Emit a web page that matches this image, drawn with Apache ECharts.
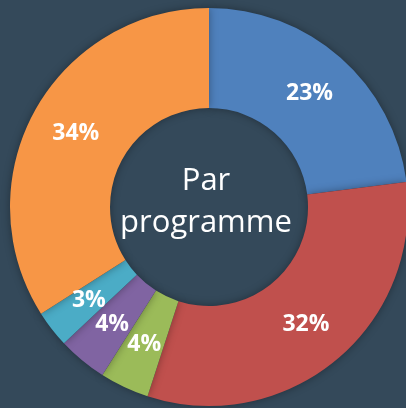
<!DOCTYPE html>
<html lang="fr">
<head>
    <meta http-equiv="Content-Type" content="text/html; charset=utf-8">
    <script type="text/javascript" src="https://cdn.jsdelivr.net/npm/echarts@6/dist/echarts.min.js"></script>
    <title>Par programme</title>
    <style>
        html, body { margin: 0; padding: 0; background: #34495a; }
        #chart { width: 406px; height: 408px; }
    </style>
</head>
<body>
<div id="chart"></div>
<script>
// parts par programme, sens horaire depuis midi
const programmes = ['A', 'B', 'C', 'D', 'E', 'F'];
const parts = [23, 32, 4, 4, 3, 34];
const couleurs = ['#4f81bd', '#c0504d', '#9bbb59', '#8064a2', '#4bacc6', '#f79646'];

function createPie(dom) {
    let chart = echarts.init(dom);
    const option = {
        backgroundColor: '#34495a',
        animation: false,
        graphic: [{
            type: 'text',
            x: 206,
            y: 202,
            z: 10,
            style: {
                text: 'Par\nprogramme',
                align: 'center',
                verticalAlign: 'middle',
                fill: '#ffffff',
                font: '31px "Open Sans"',
                lineHeight: 42
            }
        }],
        series: [
            {
                type: 'pie',
                center: [209, 207],
                radius: [99, 199],
                startAngle: 90,
                clockwise: true,
                avoidLabelOverlap: false,
                labelLayout: { hideOverlap: false },
                itemStyle: {
                    shadowBlur: 8,
                    shadowColor: 'rgba(0,0,0,0.35)'
                },
                label: {
                    show: true,
                    position: 'inside',
                    color: '#ffffff',
                    fontFamily: 'Open Sans',
                    fontWeight: 'bold',
                    fontSize: 23,
                    formatter: function (x) {
                        return x.value + '%';
                    }
                },
                labelLine: { show: false },
                data: programmes.map(function (p, i) {
                    return { name: p, value: parts[i], itemStyle: { color: couleurs[i] } };
                })
            }
        ]
    };
    chart.setOption(option);
}
createPie(document.getElementById('chart'));
</script>
</body>
</html>
